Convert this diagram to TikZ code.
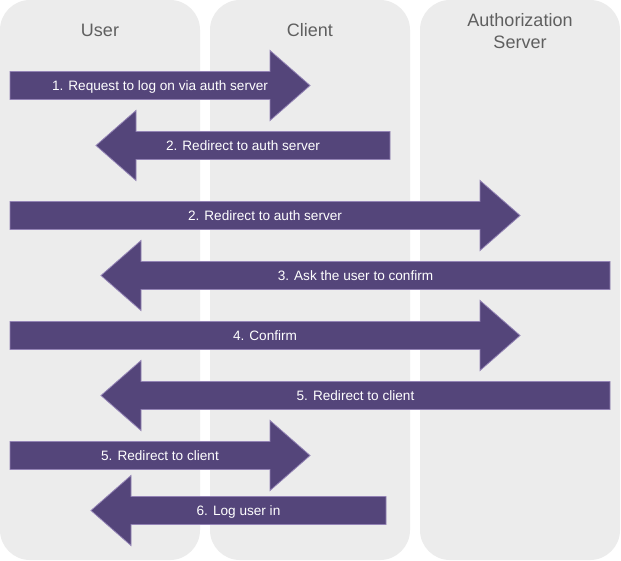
\documentclass[tikz,border=0pt]{standalone}
\usepackage{fontspec}
\setmainfont{Liberation Sans}
\begin{document}
\begin{tikzpicture}[x=1pt,y=-1pt,
  lane/.style={fill=laneg,draw=none,rounded corners=30pt},
  head/.style={text=headg,font=\fontsize{18}{22}\selectfont,align=center},
  flow/.style={fill=flowp,draw=flowb,line width=0.8pt,line join=miter},
  lbl/.style={text=white,font=\fontsize{13.6}{15}\selectfont,inner sep=0pt,anchor=base}]
\definecolor{laneg}{HTML}{ECECEC}
\definecolor{headg}{HTML}{5F5F5F}
\definecolor{flowp}{HTML}{54457A}
\definecolor{flowb}{HTML}{9383B5}
\useasboundingbox[fill=white] (0,0) rectangle (621,561);
\newcommand{\flowR}[5]{%
  \draw[flow] (#2,#4-14) -- (#3-40,#4-14) -- (#3-40,#4-35) -- (#3,#4) -- (#3-40,#4+35) -- (#3-40,#4+14) -- (#2,#4+14) -- cycle;
  \node[lbl] (#1) at ({(#2+#3)/2},#4+5) {#5};}
\newcommand{\flowL}[5]{%
  \draw[flow] (#3,#4-14) -- (#2+40,#4-14) -- (#2+40,#4-35) -- (#2,#4) -- (#2+40,#4+35) -- (#2+40,#4+14) -- (#3,#4+14) -- cycle;
  \node[lbl] (#1) at ({(#2+#3)/2},#4+5) {#5};}
% lanes
\fill[lane] (0,0) rectangle (200,560);
\fill[lane] (210,0) rectangle (410,560);
\fill[lane] (420,0) rectangle (620,560);
\node[head] (user) at (100,30) {User};
\node[head] (client) at (310,30) {Client};
\node[head] (auth) at (520,31) {Authorization\\Server};
% arrows
\flowR{a1}{10}{310}{85.5}{1. Request to log on via auth server}
\flowL{a2}{96}{390}{145.5}{2. Redirect to auth server}
\flowR{a3}{10}{520}{215.5}{2. Redirect to auth server}
\flowL{a4}{101}{610}{275.5}{3. Ask the user to confirm}
\flowR{a5}{10}{520}{335.5}{4. Confirm}
\flowL{a6}{101}{610}{395.5}{5. Redirect to client}
\flowR{a7}{10}{310}{455.5}{5. Redirect to client}
\flowL{a8}{91}{386}{510.5}{6. Log user in}
\end{tikzpicture}
\end{document}
